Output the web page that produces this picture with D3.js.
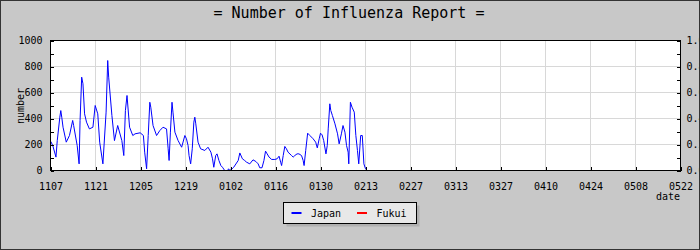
<!DOCTYPE html>
<html>
<head>
<meta charset="utf-8">
<script src="https://cdn.jsdelivr.net/npm/d3@7"></script>
<style>
  html, body { margin: 0; padding: 0; background: #c8c8c8; }
  svg { display: block; }
</style>
</head>
<body>
<div id="vis"></div>
<script>
// x tick labels (mmdd), one every 14 days starting 2009-11-07
const xLabels = ["1107", "1121", "1205", "1219", "0102", "0116", "0130", "0213",
                 "0227", "0313", "0327", "0410", "0424", "0508", "0522"];
const leftTicks = [0, 200, 400, 600, 800, 1000];
const rightTicks = [0, 0.2, 0.4, 0.6, 0.8, 1.0];

// Japan reports: days since 11/07 and number of reports
const dayOffset = [0.1, 0.7, 1.7, 2.1, 2.9, 3.2, 3.5, 3.9, 4.9, 5.9, 6.9, 7.2, 8.3, 8.9, 9.2, 9.7,
  10.1, 10.6, 11.2, 12.1, 13.2, 13.9, 14.7, 15.3, 16.3, 17.3, 17.8, 18.1, 19.1, 19.9, 20.9,
  22.2, 22.8, 23.3, 23.8, 24.6, 25.6, 26.3, 27.9, 28.9, 29.3, 29.9, 30.4, 30.9, 31.2, 31.9,
  33.0, 34.0, 35.0, 36.1, 36.6, 36.9, 37.3, 37.8, 38.1, 38.7, 39.7, 40.8, 41.8, 42.3, 42.8,
  43.1, 43.6, 44.1, 44.6, 44.9, 45.2, 45.9, 46.7, 48.0, 49.0, 49.9, 50.4, 50.8, 51.4, 51.8,
  52.4, 53.0, 53.5, 54.2, 55.1, 55.4, 55.8, 56.5, 57.0, 58.4, 58.9, 59.7, 60.4, 61.0, 62.0,
  63.0, 63.9, 64.6, 65.1, 65.8, 66.4, 66.9, 67.4, 68.0, 68.8, 69.8, 70.5, 71.1, 71.6, 71.9,
  72.4, 72.9, 73.4, 73.9, 75.0, 75.5, 76.0, 76.7, 77.3, 78.1, 78.6, 78.9, 79.4, 80.0, 80.7,
  81.7, 82.5, 83.0, 83.6, 84.0, 84.5, 85.0, 85.7, 86.1, 86.4, 86.9, 87.2, 87.7, 88.5, 89.3,
  89.8, 90.5, 91.0, 91.6, 92.1, 92.6, 92.8, 93.3, 93.8, 94.5, 95.0, 95.5, 95.9, 96.5, 97.0,
  97.5, 98.0, 98.6];
const japan = [223, 192, 103, 230, 410, 461, 410, 333, 218, 269, 385, 346, 192, 51, 385, 718,
  667, 436, 372, 320, 333, 500, 436, 218, 51, 449, 846, 718, 423, 230, 346,
  230, 115, 461, 577, 333, 269, 282, 290, 269, 141, 13, 269, 525, 487, 346,
  269, 307, 333, 320, 167, 77, 295, 525, 449, 295, 230, 179, 269, 244, 192,
  115, 51, 167, 372, 410, 359, 218, 167, 154, 179, 141, 90, 25, 115, 128,
  77, 38, 25, 0, 0, 13, 0, 13, 25, 77, 135, 90, 77, 64, 51,
  82, 69, 51, 21, 21, 77, 149, 128, 103, 85, 85, 90, 110, 64, 38,
  115, 185, 167, 141, 115, 103, 115, 128, 128, 115, 77, 38, 154, 287, 269,
  244, 218, 174, 244, 287, 274, 230, 128, 192, 320, 513, 461, 423, 359, 282,
  205, 282, 346, 295, 192, 141, 51, 525, 487, 449, 269, 154, 51, 269, 269,
  51, 13, 0];
// Fukui: no reports drawn
const fukui = [];

const seriesNames = ["Japan", "Fukui"];
const seriesColors = ["#0000ff", "#ff0000"];

const W = 700, H = 250;
const FONT = "'DejaVu Sans Mono', monospace";

const svg = d3.select('#vis').append('svg')
    .attr('width', W)
    .attr('height', H);

// background + outer border
svg.append('rect')
    .attr('x', 0.5).attr('y', 0.5)
    .attr('width', W - 1).attr('height', H - 1)
    .attr('fill', '#c8c8c8')
    .attr('stroke', '#333');

const x = d3.scaleLinear()
    .domain([0, (xLabels.length - 1) * 14])
    .range([50.5, 680.5]);
const y = d3.scaleLinear()
    .domain([0, 1000])
    .range([170.5, 40.5]);
const yR = d3.scaleLinear()
    .domain([0, 1])
    .range([170.5, 40.5]);

const xTicks = xLabels.map((d, i) => i * 14);

// plot background
svg.append('rect')
    .attr('x', x.range()[0]).attr('y', y.range()[1])
    .attr('width', x.range()[1] - x.range()[0])
    .attr('height', y.range()[0] - y.range()[1])
    .attr('fill', '#fff');

// grid
const grid = svg.append('g')
    .attr('stroke', '#d8d8d8')
    .attr('shape-rendering', 'crispEdges');
grid.selectAll('.gx')
    .data(xTicks.slice(1, -1))
    .enter().append('line')
    .attr('x1', d => x(d)).attr('x2', d => x(d))
    .attr('y1', y.range()[0]).attr('y2', y.range()[1]);
grid.selectAll('.gy')
    .data(leftTicks.slice(1, -1))
    .enter().append('line')
    .attr('x1', x.range()[0]).attr('x2', x.range()[1])
    .attr('y1', d => y(d)).attr('y2', d => y(d));

// series
const line = d3.line()
    .x(d => x(d[0]))
    .y(d => y(d[1]));

const japanPts = dayOffset.map((d, i) => [d, japan[i]]);
const fukuiPts = fukui.map((v, i) => [dayOffset[i], v]);

svg.append('path')
    .datum(japanPts)
    .attr('d', line)
    .attr('fill', 'none')
    .attr('stroke', seriesColors[0])
    .attr('stroke-width', 1);

if (fukuiPts.length) {
    svg.append('path')
        .datum(fukuiPts)
        .attr('d', line)
        .attr('fill', 'none')
        .attr('stroke', seriesColors[1])
        .attr('stroke-width', 1);
}

// axes
function styleAxis(g) {
    g.attr('font-family', FONT).attr('font-size', 10);
    g.select('.domain').remove();
    g.selectAll('line').attr('stroke', '#000').attr('shape-rendering', 'crispEdges');
    g.selectAll('text').attr('fill', '#000');
}

svg.append('g')
    .attr('transform', 'translate(' + x.range()[0] + ',0)')
    .call(d3.axisLeft(y).tickValues(leftTicks).tickSize(-3).tickSizeOuter(0).tickPadding(8)
        .tickFormat(d3.format('d')))
    .call(styleAxis);
svg.append('g')
    .attr('transform', 'translate(' + x.range()[0] + ',0)')
    .call(d3.axisLeft(y).tickValues([100, 300, 500, 700, 900]).tickSize(-3).tickSizeOuter(0).tickFormat(''))
    .call(styleAxis);

// right axis labels are clipped by the image edge, as in the original
svg.append('g')
    .attr('transform', 'translate(' + x.range()[1] + ',0)')
    .call(d3.axisRight(yR).tickValues(rightTicks).tickSize(-4).tickSizeOuter(0).tickPadding(6)
        .tickFormat(d3.format('.1f')))
    .call(styleAxis);
svg.append('g')
    .attr('transform', 'translate(' + x.range()[1] + ',0)')
    .call(d3.axisRight(yR).tickValues([0.1, 0.3, 0.5, 0.7, 0.9]).tickSize(-4).tickSizeOuter(0).tickFormat(''))
    .call(styleAxis);

svg.append('g')
    .attr('transform', 'translate(0,' + y.range()[0] + ')')
    .call(d3.axisBottom(x).tickValues(xTicks).tickSize(-4).tickSizeOuter(0).tickPadding(12)
        .tickFormat((d, i) => xLabels[i]))
    .call(styleAxis);

// plot frame
svg.append('rect')
    .attr('x', x.range()[0]).attr('y', y.range()[1])
    .attr('width', x.range()[1] - x.range()[0])
    .attr('height', y.range()[0] - y.range()[1])
    .attr('fill', 'none')
    .attr('stroke', '#000')
    .attr('shape-rendering', 'crispEdges');

// outer border drawn again on top of the clipped labels
svg.append('rect')
    .attr('x', 0.5).attr('y', 0.5)
    .attr('width', W - 1).attr('height', H - 1)
    .attr('fill', 'none')
    .attr('stroke', '#333');

// title & axis titles
svg.append('text')
    .attr('x', 349).attr('y', 18)
    .attr('text-anchor', 'middle')
    .attr('font-family', FONT).attr('font-size', 15)
    .text('= Number of Influenza Report =');

svg.append('text')
    .attr('transform', 'translate(24,106) rotate(-90)')
    .attr('text-anchor', 'middle')
    .attr('font-family', FONT).attr('font-size', 10)
    .text('number');

svg.append('text')
    .attr('x', 680).attr('y', 200)
    .attr('text-anchor', 'end')
    .attr('font-family', FONT).attr('font-size', 10)
    .text('date');

// legend
const legend = svg.append('g').attr('transform', 'translate(283.5,202.5)');
legend.append('rect')
    .attr('x', 3).attr('y', 3)
    .attr('width', 133).attr('height', 21)
    .attr('fill', '#b0b0b0');
legend.append('rect')
    .attr('width', 133).attr('height', 21)
    .attr('fill', '#e8e8e8')
    .attr('stroke', '#000');

const item = legend.selectAll('.item')
    .data(seriesNames)
    .enter().append('g')
    .attr('transform', (d, i) => 'translate(' + (8 + i * 65.5) + ',0)');
item.append('line')
    .attr('x1', 0).attr('x2', 10)
    .attr('y1', 10.5).attr('y2', 10.5)
    .attr('stroke', (d, i) => seriesColors[i])
    .attr('stroke-width', 2);
item.append('text')
    .attr('x', 19.5).attr('y', 14)
    .attr('font-family', FONT).attr('font-size', 10)
    .text(d => d);
</script>
</body>
</html>
